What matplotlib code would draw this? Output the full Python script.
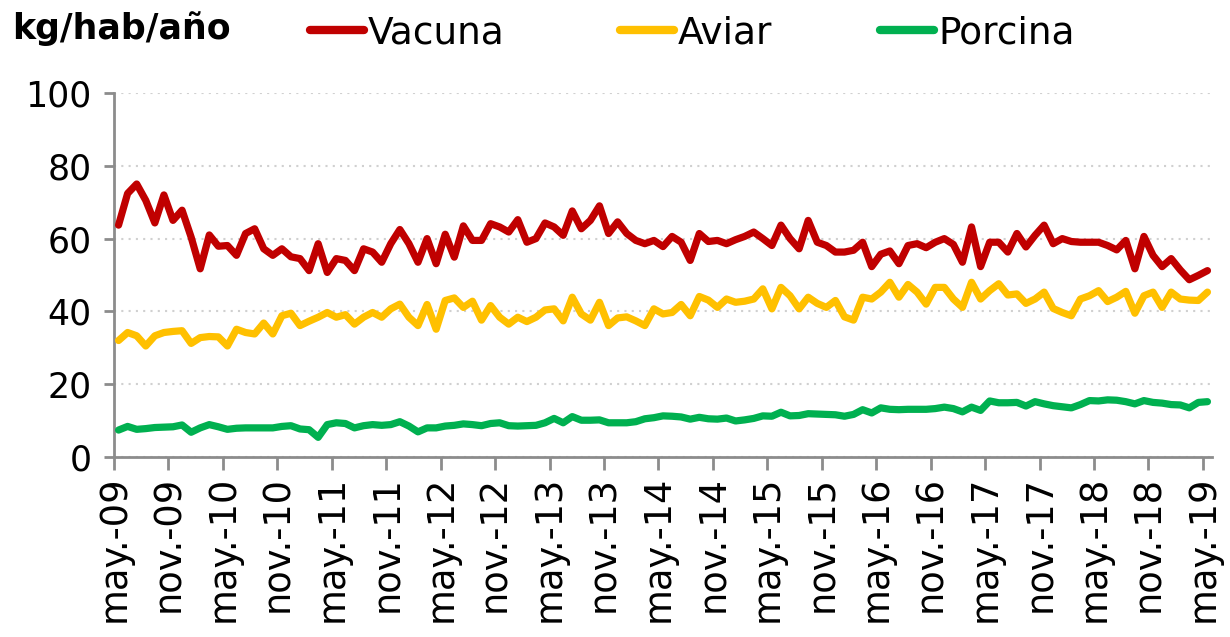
import numpy as np
import matplotlib
matplotlib.use("Agg")
import matplotlib.pyplot as plt
from matplotlib.lines import Line2D

# consumo per capita, kg/hab/año, mensual may-09 .. may-19
vacuna = [63.7, 72.4, 75.0, 70.5, 64.3, 72.0, 65.0, 67.8, 60.4, 51.7,
          61.0, 57.9, 58.1, 55.4, 61.4, 62.7, 57.2, 55.4, 57.2, 55.0,
          54.5, 51.2, 58.6, 50.7, 54.5, 54.0, 51.2, 57.2, 56.3, 53.5,
          58.6, 62.5, 58.6, 53.5, 60.0, 53.1, 61.2, 54.9, 63.5, 59.5,
          59.5, 64.1, 63.2, 61.8, 65.2, 59.0, 60.0, 64.3, 63.2, 60.9,
          67.6, 62.7, 65.0, 69.0, 61.4, 64.6, 61.4, 59.5, 58.6, 59.5,
          57.8, 60.6, 59.0, 54.0, 61.4, 59.2, 59.5, 58.6, 59.7, 60.6,
          61.8, 60.0, 58.1, 63.7, 60.0, 57.2, 65.0, 59.0, 58.1, 56.3,
          56.3, 56.8, 59.0, 52.3, 55.7, 56.6, 53.1, 58.1, 58.6, 57.5,
          59.0, 60.0, 58.4, 53.5, 63.2, 52.3, 59.0, 59.0, 56.3, 61.4,
          57.7, 60.9, 63.7, 58.6, 60.0, 59.2, 59.0, 59.0, 59.0, 58.1,
          56.9, 59.5, 51.7, 60.6, 55.4, 52.3, 54.5, 51.4, 48.7, 49.9,
          51.2]
aviar = [32.0, 34.2, 33.3, 30.5, 33.3, 34.2, 34.5, 34.7, 31.2, 32.8,
         33.1, 33.0, 30.5, 35.1, 34.2, 33.8, 36.8, 33.8, 38.8, 39.5,
         36.1, 37.3, 38.4, 39.7, 38.4, 39.1, 36.5, 38.4, 39.7, 38.4,
         40.7, 42.0, 38.4, 36.1, 41.9, 35.1, 43.0, 43.7, 41.1, 42.8,
         37.6, 41.6, 38.4, 36.5, 38.4, 37.2, 38.4, 40.4, 40.7, 37.4,
         43.9, 39.3, 37.6, 42.5, 36.1, 38.2, 38.5, 37.4, 36.1, 40.7,
         39.3, 39.7, 41.9, 38.8, 44.1, 43.1, 41.1, 43.4, 42.5, 42.8,
         43.4, 46.2, 40.7, 46.6, 44.3, 40.7, 43.9, 42.2, 41.1, 43.0,
         38.5, 37.6, 43.9, 43.4, 45.3, 48.0, 43.9, 47.4, 45.3, 42.0,
         46.6, 46.6, 43.4, 41.1, 48.0, 43.4, 45.7, 47.6, 44.5, 44.8,
         42.2, 43.4, 45.3, 40.8, 39.7, 38.8, 43.4, 44.3, 45.7, 42.7,
         43.9, 45.5, 39.5, 44.3, 45.3, 41.1, 45.3, 43.4, 43.1, 43.0,
         45.3]
porcina = [7.4, 8.4, 7.6, 7.8, 8.1, 8.2, 8.3, 8.8, 6.8, 8.0,
           8.9, 8.3, 7.6, 7.9, 8.0, 8.0, 8.0, 8.0, 8.4, 8.6,
           7.7, 7.5, 5.4, 8.9, 9.4, 9.2, 8.0, 8.6, 8.9, 8.7,
           8.9, 9.7, 8.5, 6.9, 8.0, 8.0, 8.5, 8.7, 9.1, 8.9,
           8.6, 9.2, 9.4, 8.6, 8.5, 8.6, 8.7, 9.4, 10.6, 9.4,
           11.1, 10.1, 10.1, 10.2, 9.4, 9.4, 9.4, 9.7, 10.5, 10.8,
           11.3, 11.2, 11.0, 10.4, 10.9, 10.5, 10.4, 10.7, 9.9, 10.2,
           10.6, 11.3, 11.2, 12.3, 11.3, 11.4, 11.9, 11.8, 11.7, 11.6,
           11.2, 11.7, 13.0, 12.1, 13.5, 13.1, 13.0, 13.1, 13.1, 13.1,
           13.3, 13.7, 13.3, 12.4, 13.7, 12.8, 15.4, 14.9, 14.9, 15.0,
           14.0, 15.2, 14.6, 14.1, 13.8, 13.5, 14.4, 15.5, 15.4, 15.7,
           15.6, 15.2, 14.6, 15.5, 15.0, 14.8, 14.4, 14.3, 13.5, 15.0,
           15.2]

tick_labels = ["may.-09", "nov.-09", "may.-10", "nov.-10", "may.-11", "nov.-11",
               "may.-12", "nov.-12", "may.-13", "nov.-13", "may.-14", "nov.-14",
               "may.-15", "nov.-15", "may.-16", "nov.-16", "may.-17", "nov.-17",
               "may.-18", "nov.-18", "may.-19"]

series = [("Vacuna", vacuna, "#C00000"),
          ("Aviar", aviar, "#FFC000"),
          ("Porcina", porcina, "#00B050")]
legend_x = [310, 620, 880]  # px, where each legend entry starts

grey = "#8c8c8c"

fig = plt.figure(figsize=(12.3, 6.37), dpi=100)
ax = fig.add_axes([114/1230, 1 - 457/637, (1212 - 114)/1230, (457 - 93)/637])

# each month sits in the middle of its category slot
x = np.arange(len(vacuna)) + 0.5
for name, vals, col in series:
    ax.plot(x, vals, color=col, lw=5.2, solid_capstyle="round",
            solid_joinstyle="round", zorder=3)

ax.set_xlim(0, len(vacuna))
ax.set_ylim(0, 100)
ax.set_yticks(range(0, 101, 20))
ax.set_xticks(np.arange(0, len(vacuna), 6))
ax.set_xticklabels(tick_labels, rotation=90)

ax.grid(axis="y", linestyle=(0, (1, 2.5)), color="#d0d0d0", lw=1.5)
ax.set_axisbelow(True)
for side in ["top", "right"]:
    ax.spines[side].set_visible(False)
for side in ["left", "bottom"]:
    ax.spines[side].set_color(grey)
    ax.spines[side].set_linewidth(2)

ax.tick_params(axis="both", color=grey, width=2)
ax.tick_params(axis="y", length=7, pad=9, labelsize=25)
ax.tick_params(axis="x", length=9.5, pad=4, labelsize=26.5)

fig.text(12/1230, 1 - 29/637, "kg/hab/año", fontsize=25, fontweight="bold",
         ha="left", va="center")

for (name, vals, col), lx in zip(series, legend_x):
    h = Line2D([], [], color=col, lw=6, solid_capstyle="round")
    fig.legend(handles=[h], labels=[name], loc="center left",
               bbox_to_anchor=(lx/1230, 1 - 33/637), frameon=False,
               fontsize=27, handlelength=1.45, handletextpad=0.1,
               borderpad=0, borderaxespad=0)

fig.savefig("out.png", dpi=100)
